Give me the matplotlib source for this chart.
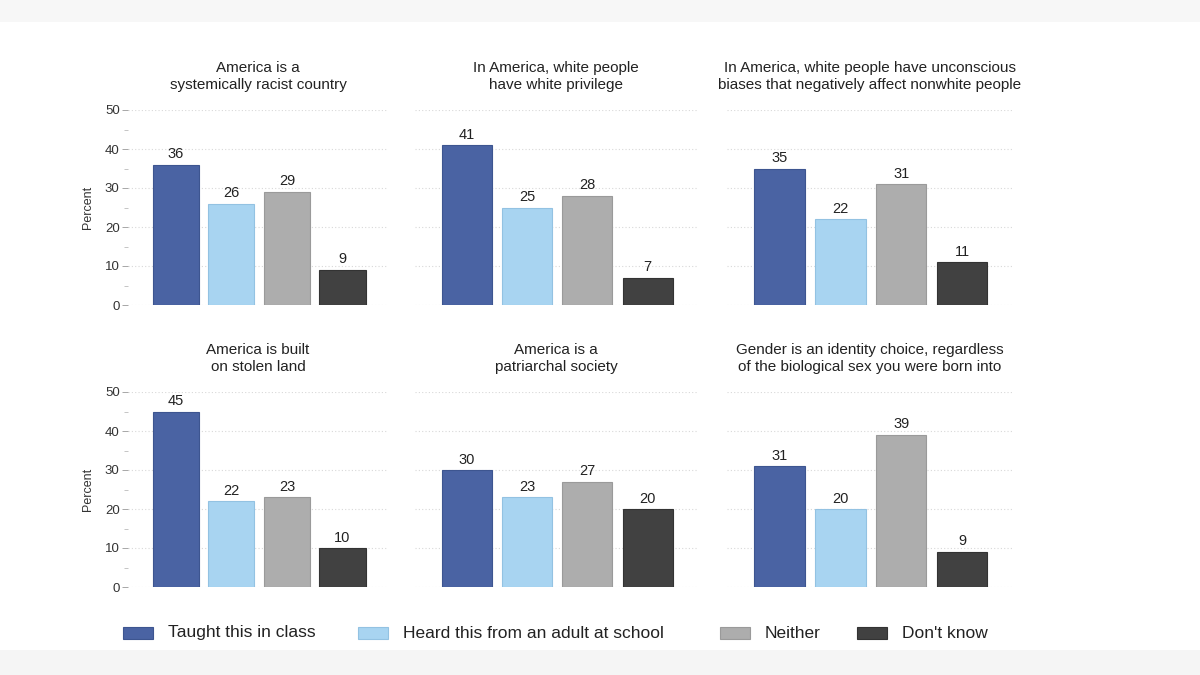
import matplotlib
matplotlib.use('Agg')
import matplotlib.pyplot as plt
from matplotlib.patches import Rectangle

plt.rcParams['font.family'] = ['Liberation Sans', 'DejaVu Sans']

# data
TITLES = [
    'America is a\nsystemically racist country',
    'In America, white people\nhave white privilege',
    'In America, white people have unconscious\nbiases that negatively affect nonwhite people',
    'America is built\non stolen land',
    'America is a\npatriarchal society',
    'Gender is an identity choice, regardless\nof the biological sex you were born into',
]
CATEGORIES = ['Taught this in class', 'Heard this from an adult at school', 'Neither', "Don't know"]
taught = [36, 41, 35, 45, 30, 31]
heard = [26, 25, 22, 22, 23, 20]
neither = [29, 28, 31, 23, 27, 39]
dont_know = [9, 7, 11, 10, 20, 9]
Y_TICKS = [0, 10, 20, 30, 40, 50]

COLORS = ['#4a63a3', '#a8d4f1', '#adadad', '#414141']
EDGES = ['#3d5590', '#93c2e2', '#9a9a9a', '#333333']

W, H = 1200, 675
fig = plt.figure(figsize=(12, 6.75), dpi=100)
fig.patch.set_facecolor('white')
# light bands at top and bottom of the screenshot
fig.patches.append(Rectangle((0, 1 - 22 / H), 1, 22 / H, transform=fig.transFigure,
                             facecolor='#f7f7f7', edgecolor='none', zorder=-5))
fig.patches.append(Rectangle((0, 0), 1, 25 / H, transform=fig.transFigure,
                             facecolor='#f5f5f5', edgecolor='none', zorder=-5))

# axes boxes in pixels: (left, right)
cols_px = [(128, 388), (415, 697), (727, 1012)]
rows_px = [(110, 305), (392, 587)]  # (top, bottom)

for i in range(6):
    r, c = divmod(i, 3)
    x0, x1 = cols_px[c]
    t, b = rows_px[r]
    ax = fig.add_axes([x0 / W, 1 - b / H, (x1 - x0) / W, (b - t) / H])
    vals = [taught[i], heard[i], neither[i], dont_know[i]]
    xs = range(len(vals))
    bars = ax.bar(xs, vals, width=0.83, color=COLORS, edgecolor=EDGES, linewidth=0.8, zorder=3)
    for bar, v in zip(bars, vals):
        ax.annotate(str(v), (bar.get_x() + bar.get_width() / 2, v), xytext=(0, 2.5),
                    textcoords='offset points', ha='center', va='bottom',
                    fontsize=10.5, color='#222222', zorder=4)
    ax.set_xlim(-0.86, 3.82)
    ax.set_ylim(0, 50)
    ax.set_yticks(Y_TICKS)
    ax.set_yticks([5, 15, 25, 35, 45], minor=True)
    ax.yaxis.grid(True, which='major', linestyle=(0, (1, 2)), color='#d8d8d8', linewidth=0.8, zorder=0)
    ax.set_xticks([])
    for s in ax.spines.values():
        s.set_visible(False)
    ax.set_title(TITLES[i], fontsize=11, color='#222222', pad=15, linespacing=1.3)
    if c == 0:
        ax.tick_params(axis='y', which='major', length=4, width=0.6, color='#999999',
                       labelsize=9.5, labelcolor='#333333', pad=2)
        ax.tick_params(axis='y', which='minor', length=3, width=0.6, color='#bbbbbb')
        ax.set_ylabel('Percent', fontsize=9, color='#333333', labelpad=8)
    else:
        ax.tick_params(axis='y', which='both', length=0, labelleft=False)

# legend along the bottom
leg_x = [123, 358, 720, 857]
leg_y = 633
for xp, name, col, ec in zip(leg_x, CATEGORIES, COLORS, EDGES):
    fig.patches.append(Rectangle((xp / W, (H - leg_y - 6) / H), 30 / W, 12 / H,
                                 transform=fig.transFigure, facecolor=col, edgecolor=ec, linewidth=0.8))
    fig.text((xp + 45) / W, (H - leg_y) / H, name, fontsize=12.5, color='#222222',
             ha='left', va='center')

fig.savefig('out.png', dpi=100, facecolor=fig.get_facecolor())
